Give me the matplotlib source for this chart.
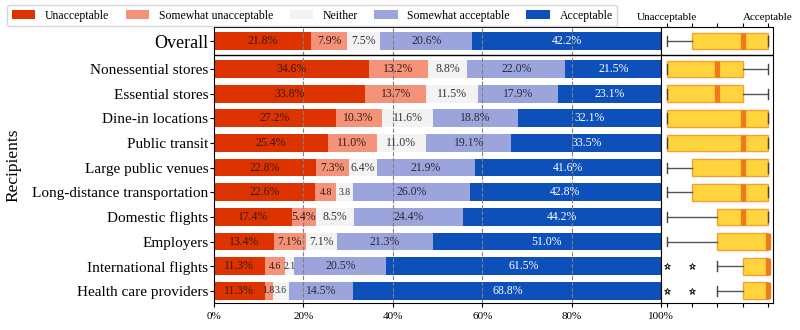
import numpy as np
import matplotlib
matplotlib.use('Agg')
import matplotlib.pyplot as plt

plt.rcParams['font.family'] = ['Liberation Serif', 'DejaVu Serif']

# ----------------------------------------------
# data

recipients = ['Overall', 'Nonessential stores', 'Essential stores', 'Dine-in locations',
              'Public transit', 'Large public venues', 'Long-distance transportation',
              'Domestic flights', 'Employers', 'International flights', 'Health care providers']

levels = ['Unacceptable', 'Somewhat unacceptable', 'Neither', 'Somewhat acceptable', 'Acceptable']

unacceptable = [21.8, 34.6, 33.8, 27.2, 25.4, 22.8, 22.6, 17.4, 13.4, 11.3, 11.3]
somewhat_unacceptable = [7.9, 13.2, 13.7, 10.3, 11.0, 7.3, 4.8, 5.4, 7.1, 4.6, 1.8]
neither = [7.5, 8.8, 11.5, 11.6, 11.0, 6.4, 3.8, 8.5, 7.1, 2.1, 3.6]
somewhat_acceptable = [20.6, 22.0, 17.9, 18.8, 19.1, 21.9, 26.0, 24.4, 21.3, 20.5, 14.5]
acceptable = [42.2, 21.5, 23.1, 32.1, 33.5, 41.6, 42.8, 44.2, 51.0, 61.5, 68.8]

# box plot summary on the 1 (unacceptable) .. 5 (acceptable) scale
whislo = [1, 1, 1, 1, 1, 1, 1, 1, 1, 3, 3]
q1 = [2, 1, 1, 1, 1, 2, 2, 3, 3, 4, 4]
med = [4, 3, 3, 4, 4, 4, 4, 4, 5, 5, 5]
q3 = [5, 4, 4, 5, 5, 5, 5, 5, 5, 5, 5]
whishi = [5, 5, 5, 5, 5, 5, 5, 5, 5, 5, 5]
fliers = [[], [], [], [], [], [], [], [], [], [1, 2], [1, 2]]

colors = ['#DC3300', '#F4937A', '#F3F3F3', '#9CA5DB', '#0E50B9']
text_colors = ['#3a1a10', '#3a1a10', '#333333', '#2a2a40', 'white']

# ----------------------------------------------

# Overall sits a little apart from the others
ypos = np.array([-1.13] + list(range(len(recipients) - 1)), dtype=float)

fig = plt.figure(figsize=(8, 3.3), dpi=100)
ax = fig.add_axes([0.2675, 0.082, 0.5588, 0.836])
axb = fig.add_axes([0.826, 0.082, 0.14, 0.836], sharey=ax)

series = [unacceptable, somewhat_unacceptable, neither, somewhat_acceptable, acceptable]
left = np.zeros(len(recipients))
for vals, name, col, tcol in zip(series, levels, colors, text_colors):
    vals = np.array(vals)
    ax.barh(ypos, vals, left=left, height=0.72, color=col, label=name, zorder=2)
    for y, l, v in zip(ypos, left, vals):
        s = '%.1f%%' % v if v >= 5 else '%.1f' % v
        fs = 8.5 if v >= 5 else 7
        ax.text(l + v / 2, y, s, ha='center', va='center', color=tcol,
                fontsize=fs, zorder=4)
    left = left + vals

for x in [20, 40, 60, 80]:
    ax.axvline(x, color='gray', ls='--', lw=0.8, zorder=3)

ax.set_xlim(0, 100)
ax.set_ylim(9.49, -1.7)
ax.set_xticks([0, 20, 40, 60, 80, 100])
ax.set_xticklabels(['0%', '20%', '40%', '60%', '80%', '100%'], fontsize=8)
ax.set_yticks(ypos)
ax.set_yticklabels(recipients, fontsize=11)
ax.get_yticklabels()[0].set_fontsize(13)
ax.tick_params(axis='y', length=3, pad=1)
ax.tick_params(axis='x', length=3)
ax.set_ylabel('Recipients', fontsize=12.5, labelpad=8)
ax.axhline(-0.58, color='black', lw=1, zorder=5)

# ----------------------------------------------
# box plots

stats = []
for i in range(len(recipients)):
    stats.append(dict(whislo=whislo[i], q1=q1[i], med=med[i], q3=q3[i],
                      whishi=whishi[i], fliers=fliers[i]))

axb.bxp(stats, positions=ypos, vert=False, widths=0.68, patch_artist=True,
        manage_ticks=False, capwidths=0.4,
        boxprops=dict(facecolor='#FFD43D', edgecolor='#F5A030', lw=1),
        medianprops=dict(color='#EE7A1A', lw=3.8),
        whiskerprops=dict(color='#555555', lw=1),
        capprops=dict(color='#444444', lw=1),
        flierprops=dict(marker='*', markersize=5, markerfacecolor='white',
                        markeredgecolor='black', markeredgewidth=0.6))

axb.set_xlim(0.76, 5.2)
axb.axhline(-0.58, color='black', lw=1, zorder=5)
axb.tick_params(axis='y', left=False, labelleft=False)
axb.set_xticks([1, 2, 3, 4, 5])
axb.tick_params(axis='x', top=True, bottom=True, labeltop=True, labelbottom=False,
                length=3, labelsize=8, pad=1)
axb.set_xticklabels(['Unacceptable', '', '', '', 'Acceptable'])

# ----------------------------------------------

fig.legend(loc='upper left', bbox_to_anchor=(0.006, 0.992), ncol=5, fontsize=8.5,
           handlelength=2.0, handletextpad=0.8, columnspacing=1.4,
           borderpad=0.4, borderaxespad=0.2, frameon=True, edgecolor='#cccccc')

fig.savefig('out.png', dpi=100)
